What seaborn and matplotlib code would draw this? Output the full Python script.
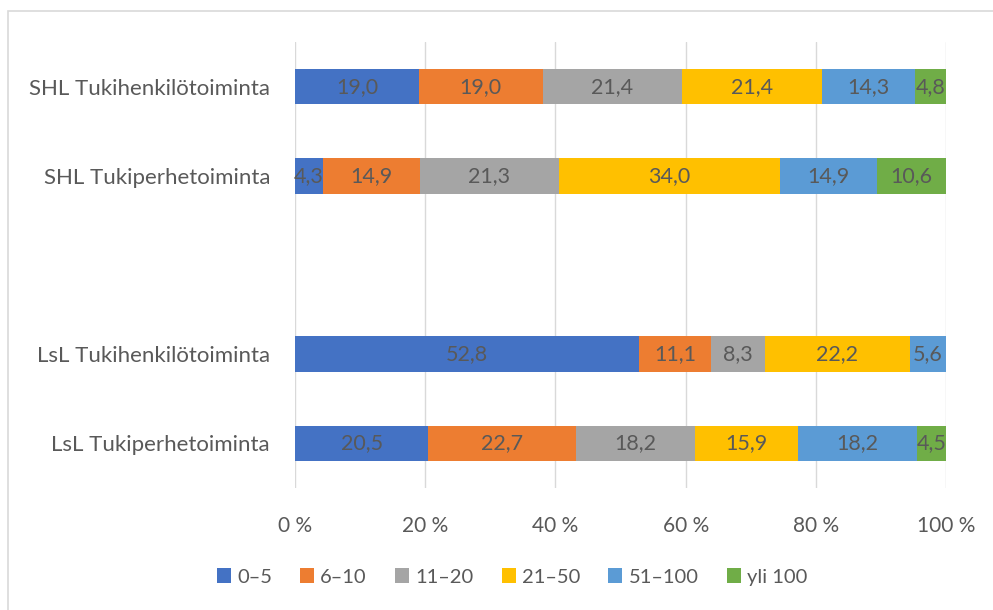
import matplotlib
matplotlib.use("Agg")
import matplotlib.pyplot as plt
from matplotlib.patches import Rectangle
import numpy as np
import pandas as pd
import seaborn as sns

categories = ["SHL Tukihenkilötoiminta", "SHL Tukiperhetoiminta", "",
              "LsL Tukihenkilötoiminta", "LsL Tukiperhetoiminta"]
groups = ["0–5", "6–10", "11–20", "21–50", "51–100", "yli 100"]
shl_tukihenkilo = [19.0, 19.0, 21.4, 21.4, 14.3, 4.8]
shl_tukiperhe = [4.3, 14.9, 21.3, 34.0, 14.9, 10.6]
blank_row = [0, 0, 0, 0, 0, 0]
lsl_tukihenkilo = [52.8, 11.1, 8.3, 22.2, 5.6, 0.0]
lsl_tukiperhe = [20.5, 22.7, 18.2, 15.9, 18.2, 4.5]
colors = ["#4472C4", "#ED7D31", "#A5A5A5", "#FFC000", "#5B9BD5", "#70AD47"]
xticks = [0, 20, 40, 60, 80, 100]

sns.set_theme(style="white")
plt.rcParams["font.family"] = ["Lato", "DejaVu Sans"]
text_color = "#595959"

rows = [shl_tukihenkilo, shl_tukiperhe, blank_row, lsl_tukihenkilo, lsl_tukiperhe]
vals = np.array(rows, dtype=float)
totals = vals.sum(axis=1)
totals[totals == 0] = 1
shares = vals / totals[:, None] * 100
cum = np.cumsum(shares, axis=1)

fig = plt.figure(figsize=(9.93, 6.10), dpi=100)
ax = fig.add_axes([0.2971, 0.2, 0.9527 - 0.2971, 0.9311 - 0.2])

# stacked bars: draw cumulative totals from the outermost segment inward
for j in range(len(groups) - 1, -1, -1):
    df = pd.DataFrame({"cat": categories, "val": cum[:, j]})
    sns.barplot(data=df, x="val", y="cat", order=categories, orient="h",
                color=colors[j], width=0.4, linewidth=0, saturation=1,
                ax=ax, zorder=3)

# value labels centred on each segment
for i in range(len(categories)):
    for j in range(len(groups)):
        v = vals[i, j]
        if v <= 0:
            continue
        xc = cum[i, j] - shares[i, j] / 2
        ax.text(xc, i, f"{v:.1f}".replace(".", ","), ha="center", va="center",
                color=text_color, fontsize=15.5, zorder=4)

ax.set_xlim(0, 100)
ax.set_ylim(4.5, -0.5)
ax.set_xticks(xticks)
ax.set_xticklabels([f"{t} %" for t in xticks])
ax.tick_params(axis="x", length=0, pad=20, labelsize=15, labelcolor=text_color)
ax.tick_params(axis="y", length=0, pad=18, labelsize=16, labelcolor=text_color)
ax.set_xlabel("")
ax.set_ylabel("")
ax.grid(axis="x", color="#D9D9D9", linewidth=1, zorder=0)
ax.grid(axis="y", visible=False)
for s in ax.spines.values():
    s.set_visible(False)

handles = [Rectangle((0, 0), 1, 1, facecolor=c, edgecolor="none") for c in colors]
fig.legend(handles, groups, loc="center", bbox_to_anchor=(512 / 993, 1 - 577 / 610),
           ncol=6, frameon=False, fontsize=14.5, labelcolor=text_color,
           handlelength=0.7, handleheight=0.7, handletextpad=0.3,
           columnspacing=1.4)

# chart area frame
fig.patches.append(Rectangle((7.5 / 993, -0.1), 1.2, 1 - 10.5 / 610 + 0.1,
                             transform=fig.transFigure, fill=False,
                             edgecolor="#D9D9D9", linewidth=1.2))

fig.savefig("out.png", dpi=100)
